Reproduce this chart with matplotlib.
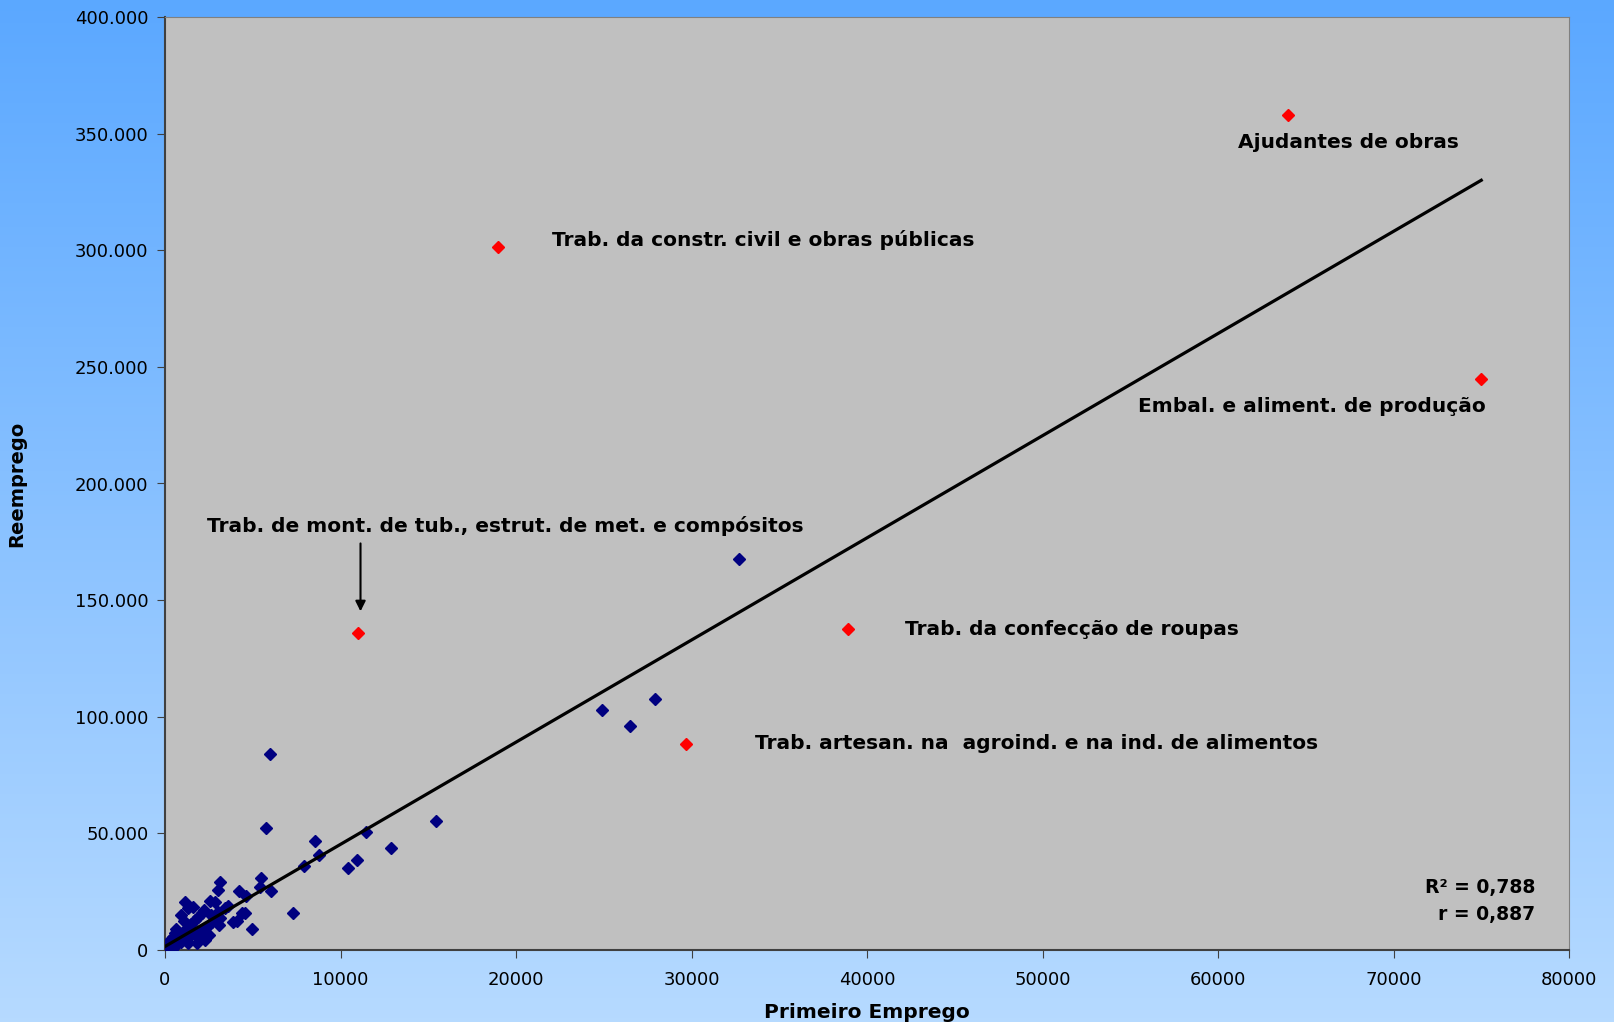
import numpy as np
import matplotlib.pyplot as plt
from matplotlib.ticker import FuncFormatter

plt.rcParams['font.family'] = ['DejaVu Sans']

# occupations (blue) - Primeiro Emprego vs Reemprego
blue_x = [32700, 24900, 27900, 26500, 6000, 5750, 15420, 11450, 8530, 8800,
          12880, 10940, 10450, 7940, 7310, 4940,
          5490, 6020, 5410, 4610, 4200, 3130, 3020, 1160, 4540, 4080,
          3100, 890, 2850, 2090, 1610, 2380, 1900, 1140, 570, 2280,
          3890, 4370, 3130, 1330, 2560,
          100, 200, 300, 400, 500, 600, 700, 800, 900, 1000,
          1200, 1400, 1600, 1800, 50, 150, 250, 350, 1300, 2000,
          2500, 2700, 1500, 1700, 2200, 2600, 3400, 20, 80, 450,
          650, 1100, 1900, 2400, 3000, 3600,
          10, 40, 60, 120, 180, 220, 280, 330, 420, 520, 30, 90]
blue_y = [167500, 103000, 107800, 95900, 84000, 52300, 55400, 50600, 46900, 40700,
          43900, 38400, 35300, 36100, 16000, 8900,
          31000, 25100, 27100, 23300, 25300, 29000, 25700, 20700, 16000, 12600,
          10700, 15000, 20700, 15700, 18600, 10000, 5700, 8600, 7200, 4300,
          12100, 15700, 13600, 18000, 21000,
          500, 1200, 800, 2000, 1500, 3000, 2500, 4000, 3500, 5000,
          4500, 6000, 7500, 3000, 200, 2500, 3800, 400, 2800, 8000,
          6500, 12000, 11000, 13000, 17000, 15000, 18000, 100, 1000, 5500,
          9000, 12500, 14000, 7000, 16500, 19000,
          50, 300, 700, 150, 900, 350, 1600, 1100, 600, 2200, 1800, 2600]

# highlighted occupations (red)
red_x = [64000, 19000, 75000, 10970, 38900, 29700]
red_y = [358000, 301400, 244900, 135700, 137500, 88400]

# linear trend
trend_slope = 4.38
trend_intercept = 1500
r2_text = 'R² = 0,788'
r_text = 'r = 0,887'

labels = [
    ('Ajudantes de obras', 67450, 346100, 'center'),
    ('Trab. da constr. civil e obras públicas', 22050, 304500, 'left'),
    ('Embal. e aliment. de produção', 55430, 232900, 'left'),
    ('Trab. de mont. de tub., estrut. de met. e compósitos', 2400, 181650, 'left'),
    ('Trab. da confecção de roupas', 42170, 137460, 'left'),
    ('Trab. artesan. na  agroind. e na ind. de alimentos', 33600, 88400, 'left'),
]

fig = plt.figure(figsize=(16.14, 10.22), dpi=100)

# gradient background
bg = fig.add_axes([0, 0, 1, 1], zorder=-1)
top = np.array([91, 168, 255]) / 255
bottom = np.array([182, 218, 255]) / 255
t = np.linspace(0, 1, 256)[:, None]
grad = top * (1 - t) + bottom * t
bg.imshow(grad[:, None, :], aspect='auto', extent=[0, 1, 0, 1])
bg.axis('off')

ax = fig.add_axes([165 / 1614, 72 / 1022, 1404 / 1614, 933 / 1022])
ax.set_facecolor('#C0C0C0')

ax.plot(blue_x, blue_y, 'D', color='#000080', markersize=6, zorder=3)
ax.plot(red_x, red_y, 'D', color='#FF0000', markersize=6, zorder=3)

tx = np.linspace(0, max(red_x), 50)
ax.plot(tx, trend_intercept + trend_slope * tx, color='black', lw=2.3, zorder=4)

for txt, x, y, ha in labels:
    ax.text(x, y, txt, ha=ha, va='center', fontsize=14.5, fontweight='bold')

ax.annotate('', xy=(11140, 144000), xytext=(11140, 175500),
            arrowprops=dict(arrowstyle='-|>', color='black', lw=1.5, mutation_scale=15))

ax.text(0.976, 0.067, r2_text, transform=ax.transAxes, ha='right', va='center',
        fontsize=13.5, fontweight='bold')
ax.text(0.976, 0.038, r_text, transform=ax.transAxes, ha='right', va='center',
        fontsize=13.5, fontweight='bold')

ax.set_xlim(0, 80000)
ax.set_ylim(0, 400000)
ax.set_xticks(range(0, 80001, 10000))
ax.set_yticks(range(0, 400001, 50000))
ax.yaxis.set_major_formatter(FuncFormatter(lambda v, p: f'{int(v):,}'.replace(',', '.') if v else '0'))
ax.tick_params(labelsize=13, length=6, color='#404040')
ax.tick_params(axis='x', pad=9)
ax.tick_params(axis='y', pad=6)
ax.set_xlabel('Primeiro Emprego', fontsize=14.5, fontweight='bold', labelpad=10)
ax.set_ylabel('Reemprego', fontsize=14, fontweight='bold', labelpad=35)

for s in ['top', 'right']:
    ax.spines[s].set_color('#808080')
for s in ['left', 'bottom']:
    ax.spines[s].set_color('#404040')
    ax.spines[s].set_linewidth(1.5)

fig.savefig('out.png', dpi=100)
